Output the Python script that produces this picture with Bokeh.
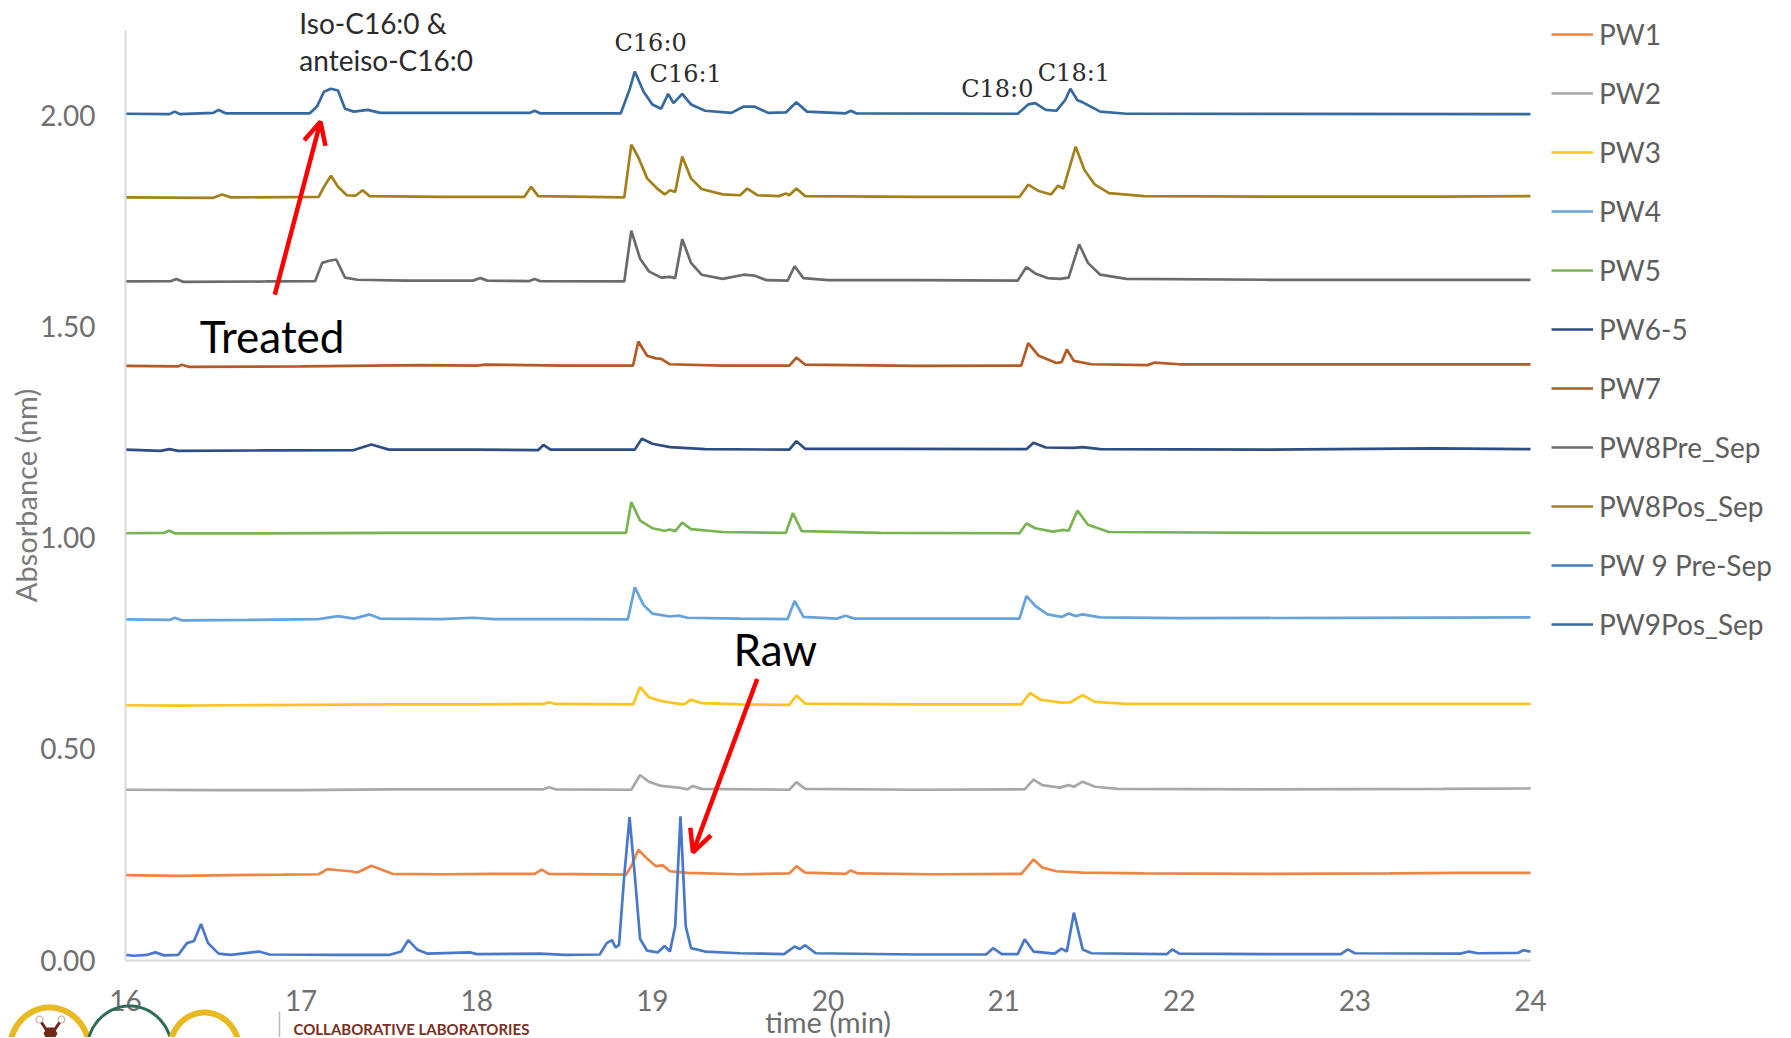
import numpy as np
from bokeh.plotting import figure
from bokeh.models import (FixedTicker, NumeralTickFormatter, Legend, LegendItem, Label,
                          Arrow, OpenHead, Range1d, PolyAnnotation)
from bokeh.embed import file_html
from bokeh.resources import INLINE

# ---------------- data ----------------
x_ticks = [16, 17, 18, 19, 20, 21, 22, 23, 24]
y_ticks = [0.0, 0.5, 1.0, 1.5, 2.0]

series_names = ["PW1", "PW2", "PW3", "PW4", "PW5", "PW6-5", "PW7",
                "PW8Pre_Sep", "PW8Pos_Sep", "PW 9 Pre-Sep", "PW9Pos_Sep"]
series_colors = ["#EE8544", "#A8A8A8", "#FFC31F", "#65A3DA", "#79B452", "#2E4D83",
                 "#B35A25", "#6B6B6B", "#A3801A", "#4A78C8", "#3569A0"]

pw1_t = [16.00, 16.30, 16.60, 16.90, 17.10, 17.15, 17.20, 17.28, 17.32, 17.40, 17.47, 17.52,
         17.80, 18.10, 18.33, 18.37, 18.41, 18.85, 18.88, 18.92, 18.97, 19.02, 19.06, 19.10,
         19.20, 19.50, 19.78, 19.82, 19.87, 20.10, 20.13, 20.17, 20.60, 21.10, 21.13, 21.17,
         21.22, 21.30, 21.45, 21.80, 22.50, 23.20, 23.60, 24.00]
pw1_y = [0.201, 0.199, 0.201, 0.202, 0.203, 0.215, 0.213, 0.210, 0.207, 0.223, 0.212, 0.204,
         0.203, 0.204, 0.204, 0.214, 0.204, 0.202, 0.222, 0.261, 0.240, 0.222, 0.224, 0.210,
         0.206, 0.203, 0.205, 0.222, 0.207, 0.204, 0.212, 0.205, 0.203, 0.204, 0.218, 0.238,
         0.219, 0.210, 0.207, 0.205, 0.204, 0.205, 0.206, 0.206]

pw2_t = [16.00, 16.50, 17.00, 17.50, 18.00, 18.38, 18.41, 18.45, 18.88, 18.93, 18.98, 19.05,
         19.15, 19.20, 19.23, 19.28, 19.78, 19.82, 19.87, 20.50, 21.12, 21.17, 21.22, 21.32,
         21.37, 21.40, 21.45, 21.52, 21.65, 22.50, 23.50, 24.00]
pw2_y = [0.403, 0.402, 0.402, 0.404, 0.404, 0.404, 0.409, 0.404, 0.403, 0.438, 0.422, 0.412,
         0.408, 0.404, 0.412, 0.405, 0.403, 0.421, 0.405, 0.403, 0.404, 0.427, 0.414, 0.408,
         0.414, 0.410, 0.422, 0.410, 0.405, 0.404, 0.405, 0.406]

pw3_t = [16.00, 16.30, 16.60, 17.00, 17.50, 18.00, 18.38, 18.41, 18.45, 18.89, 18.93, 18.98,
         19.05, 19.12, 19.18, 19.22, 19.28, 19.50, 19.78, 19.82, 19.87, 20.50, 21.10, 21.15,
         21.21, 21.33, 21.38, 21.45, 21.52, 21.70, 22.50, 23.50, 24.00]
pw3_y = [0.603, 0.602, 0.603, 0.604, 0.605, 0.605, 0.606, 0.610, 0.606, 0.605, 0.646, 0.622,
         0.613, 0.608, 0.605, 0.616, 0.608, 0.605, 0.604, 0.626, 0.607, 0.605, 0.605, 0.632,
         0.616, 0.609, 0.610, 0.627, 0.611, 0.606, 0.606, 0.606, 0.606]

pw4_t = [16.00, 16.25, 16.28, 16.32, 16.70, 17.10, 17.21, 17.30, 17.39, 17.45, 17.80, 17.98,
         18.10, 18.60, 18.86, 18.90, 18.95, 19.00, 19.10, 19.15, 19.20, 19.50, 19.77, 19.81,
         19.86, 20.05, 20.10, 20.15, 20.80, 21.09, 21.13, 21.18, 21.25, 21.33, 21.37, 21.41,
         21.45, 21.55, 22.00, 23.00, 24.00]
pw4_y = [0.806, 0.805, 0.810, 0.804, 0.805, 0.807, 0.814, 0.808, 0.818, 0.808, 0.807, 0.810,
         0.807, 0.807, 0.806, 0.882, 0.840, 0.820, 0.813, 0.815, 0.810, 0.808, 0.807, 0.850,
         0.812, 0.808, 0.815, 0.808, 0.808, 0.808, 0.862, 0.838, 0.818, 0.812, 0.820, 0.814,
         0.818, 0.811, 0.809, 0.810, 0.811]

pw5_t = [16.00, 16.22, 16.25, 16.28, 16.80, 17.50, 18.20, 18.85, 18.88, 18.93, 19.00, 19.07,
         19.10, 19.13, 19.17, 19.22, 19.40, 19.76, 19.80, 19.85, 20.30, 21.09, 21.13, 21.18,
         21.28, 21.34, 21.37, 21.42, 21.48, 21.60, 22.50, 23.50, 24.00]
pw5_y = [1.010, 1.011, 1.016, 1.010, 1.010, 1.011, 1.011, 1.011, 1.084, 1.040, 1.022, 1.016,
         1.019, 1.015, 1.035, 1.020, 1.013, 1.011, 1.058, 1.015, 1.011, 1.010, 1.033, 1.022,
         1.014, 1.018, 1.016, 1.064, 1.030, 1.013, 1.011, 1.011, 1.011]

pw65_t = [16.00, 16.20, 16.25, 16.30, 16.80, 17.30, 17.40, 17.50, 18.00, 18.35, 18.38, 18.42,
          18.90, 18.94, 19.00, 19.10, 19.30, 19.78, 19.82, 19.87, 20.40, 21.13, 21.17, 21.24,
          21.40, 21.45, 21.55, 22.50, 23.45, 24.00]
pw65_y = [1.208, 1.205, 1.209, 1.205, 1.206, 1.207, 1.220, 1.208, 1.208, 1.207, 1.219, 1.208,
          1.208, 1.234, 1.222, 1.214, 1.209, 1.208, 1.228, 1.210, 1.210, 1.209, 1.224, 1.213,
          1.212, 1.214, 1.209, 1.208, 1.211, 1.209]

pw7_t = [16.00, 16.30, 16.32, 16.36, 17.00, 17.69, 18.00, 18.05, 18.50, 18.89, 18.92, 18.97,
         19.02, 19.05, 19.10, 19.40, 19.78, 19.82, 19.87, 20.50, 21.10, 21.14, 21.20, 21.30,
         21.33, 21.36, 21.40, 21.50, 21.82, 21.86, 22.00, 23.00, 24.00]
pw7_y = [1.406, 1.405, 1.409, 1.404, 1.405, 1.408, 1.407, 1.409, 1.407, 1.407, 1.464, 1.430,
         1.424, 1.423, 1.410, 1.407, 1.407, 1.426, 1.409, 1.406, 1.407, 1.460, 1.430, 1.413,
         1.415, 1.445, 1.418, 1.410, 1.408, 1.414, 1.410, 1.410, 1.410]

pw8pre_t = [16.00, 16.26, 16.29, 16.33, 16.80, 17.08, 17.12, 17.16, 17.20, 17.25, 17.32, 17.60,
            17.98, 18.02, 18.06, 18.30, 18.33, 18.36, 18.84, 18.88, 18.93, 18.98, 19.05, 19.10,
            19.13, 19.17, 19.22, 19.28, 19.40, 19.52, 19.58, 19.65, 19.77, 19.81, 19.86, 20.00,
            20.50, 21.08, 21.13, 21.18, 21.25, 21.32, 21.37, 21.43, 21.48, 21.55, 21.70, 22.50,
            23.50, 24.00]
pw8pre_y = [1.606, 1.607, 1.612, 1.605, 1.606, 1.607, 1.650, 1.655, 1.658, 1.615, 1.610, 1.608,
            1.608, 1.614, 1.608, 1.607, 1.612, 1.607, 1.606, 1.726, 1.660, 1.630, 1.615, 1.617,
            1.614, 1.706, 1.650, 1.622, 1.612, 1.622, 1.620, 1.609, 1.608, 1.642, 1.614, 1.609,
            1.609, 1.608, 1.640, 1.625, 1.614, 1.612, 1.615, 1.694, 1.650, 1.622, 1.612, 1.610,
            1.610, 1.610]

pw8pos_t = [16.00, 16.50, 16.55, 16.60, 17.10, 17.13, 17.17, 17.21, 17.26, 17.31, 17.35, 17.39,
            17.80, 18.27, 18.31, 18.35, 18.84, 18.88, 18.92, 18.97, 19.03, 19.07, 19.10, 19.13,
            19.17, 19.22, 19.28, 19.40, 19.50, 19.54, 19.60, 19.72, 19.76, 19.78, 19.82, 19.87,
            20.50, 21.09, 21.14, 21.20, 21.27, 21.31, 21.34, 21.41, 21.46, 21.52, 21.60, 21.80,
            22.50, 23.50, 24.00]
pw8pos_y = [1.805, 1.804, 1.812, 1.805, 1.806, 1.830, 1.856, 1.830, 1.810, 1.809, 1.822, 1.808,
            1.806, 1.806, 1.830, 1.808, 1.805, 1.930, 1.900, 1.850, 1.825, 1.812, 1.822, 1.818,
            1.902, 1.850, 1.825, 1.812, 1.810, 1.826, 1.810, 1.808, 1.814, 1.810, 1.826, 1.808,
            1.806, 1.806, 1.835, 1.820, 1.812, 1.833, 1.826, 1.925, 1.870, 1.835, 1.815, 1.808,
            1.807, 1.807, 1.808]

pw9pre_t = [16.00, 16.05, 16.12, 16.17, 16.22, 16.30, 16.35, 16.39, 16.43, 16.47, 16.53, 16.60,
            16.76, 16.82, 17.20, 17.50, 17.57, 17.61, 17.66, 17.72, 17.96, 18.00, 18.36, 18.50,
            18.70, 18.74, 18.77, 18.79, 18.81, 18.84, 18.87, 18.90, 18.93, 18.97, 19.03, 19.07,
            19.10, 19.13, 19.16, 19.19, 19.22, 19.30, 19.50, 19.75, 19.81, 19.84, 19.87, 19.93,
            20.50, 20.90, 20.94, 20.99, 21.08, 21.12, 21.17, 21.29, 21.33, 21.36, 21.40, 21.45,
            21.50, 21.93, 21.96, 22.00, 22.50, 22.92, 22.96, 23.00, 23.60, 23.65, 23.70, 23.93,
            23.96, 24.00]
pw9pre_y = [0.012, 0.010, 0.012, 0.018, 0.011, 0.012, 0.040, 0.045, 0.085, 0.040, 0.015, 0.012,
            0.020, 0.013, 0.012, 0.012, 0.020, 0.047, 0.025, 0.015, 0.018, 0.014, 0.015, 0.012,
            0.013, 0.040, 0.047, 0.030, 0.035, 0.200, 0.338, 0.200, 0.050, 0.022, 0.018, 0.033,
            0.020, 0.080, 0.340, 0.080, 0.028, 0.020, 0.016, 0.014, 0.032, 0.026, 0.035, 0.016,
            0.013, 0.013, 0.028, 0.014, 0.014, 0.049, 0.020, 0.015, 0.027, 0.020, 0.112, 0.025,
            0.016, 0.014, 0.025, 0.015, 0.014, 0.014, 0.025, 0.016, 0.015, 0.020, 0.016, 0.017,
            0.023, 0.020]

pw9pos_t = [16.00, 16.25, 16.28, 16.31, 16.50, 16.53, 16.57, 17.05, 17.09, 17.13, 17.17, 17.21,
            17.25, 17.30, 17.38, 17.45, 18.30, 18.33, 18.36, 18.82, 18.87, 18.90, 18.95, 19.00,
            19.05, 19.09, 19.12, 19.17, 19.22, 19.30, 19.45, 19.52, 19.58, 19.66, 19.76, 19.82,
            19.88, 20.10, 20.13, 20.16, 21.08, 21.14, 21.18, 21.24, 21.30, 21.35, 21.38, 21.42,
            21.45, 21.55, 21.70, 24.00]
pw9pos_y = [2.003, 2.002, 2.008, 2.002, 2.005, 2.012, 2.004, 2.004, 2.020, 2.055, 2.062, 2.058,
            2.015, 2.008, 2.012, 2.005, 2.005, 2.010, 2.004, 2.004, 2.060, 2.103, 2.055, 2.025,
            2.015, 2.050, 2.028, 2.050, 2.025, 2.010, 2.005, 2.020, 2.020, 2.005, 2.006, 2.030,
            2.008, 2.004, 2.010, 2.004, 2.003, 2.025, 2.028, 2.012, 2.010, 2.035, 2.062, 2.035,
            2.030, 2.008, 2.003, 2.002]

series_t = [pw1_t, pw2_t, pw3_t, pw4_t, pw5_t, pw65_t, pw7_t, pw8pre_t, pw8pos_t, pw9pre_t, pw9pos_t]
series_y = [pw1_y, pw2_y, pw3_y, pw4_y, pw5_y, pw65_y, pw7_y, pw8pre_y, pw8pos_y, pw9pre_y, pw9pos_y]

# ---------------- geometry ----------------
W, H = 1790, 1037
X0_PX, PX_PER_MIN = 125.0, 175.625      # where t=16 sits, pixels per minute
Y0_PX, PX_PER_UNIT = 959.5, 422.5       # where y=0 sits (from top), pixels per unit
x_lo = 16 - X0_PX / PX_PER_MIN
x_hi = 16 + (W - X0_PX) / PX_PER_MIN
y_hi = Y0_PX / PX_PER_UNIT
y_lo = -(H - Y0_PX) / PX_PER_UNIT

FONT = "Lato"
p = figure(width=W, height=H, output_backend="svg", toolbar_location=None,
           x_range=Range1d(x_lo, x_hi), y_range=Range1d(y_lo, y_hi),
           min_border=0, min_border_left=0, min_border_right=0,
           min_border_top=0, min_border_bottom=0)
p.outline_line_color = None
p.xgrid.visible = False
p.ygrid.visible = False
p.background_fill_color = "white"
p.border_fill_color = "white"

for ax in (p.xaxis[0], p.yaxis[0]):
    ax.axis_line_color = "#D9D9D9"
    ax.axis_line_width = 2
    ax.major_tick_line_color = None
    ax.minor_tick_line_color = None
    ax.major_tick_out = 0
    ax.major_tick_in = 0
    ax.minor_tick_out = 0
    ax.major_label_text_font = FONT
    ax.major_label_text_font_size = "28px"
    ax.major_label_text_color = "#707070"
    ax.axis_label_text_font = FONT
    ax.axis_label_text_font_size = "29px"
    ax.axis_label_text_font_style = "normal"

p.xaxis.fixed_location = 0
p.xaxis.bounds = (16, 24)
p.xaxis.ticker = FixedTicker(ticks=x_ticks)
p.xaxis.major_label_standoff = 30
p.xaxis.axis_label = "time (min)"
p.xaxis.axis_label_text_color = "#6E6E6E"
p.xaxis.axis_label_standoff = -11

p.yaxis.fixed_location = 16
p.yaxis.bounds = (0, 2.2)
p.yaxis.ticker = FixedTicker(ticks=y_ticks)
p.yaxis.formatter = NumeralTickFormatter(format="0.00")
p.yaxis.major_label_standoff = 30
p.yaxis.axis_label = "Absorbance (nm)"
p.yaxis.axis_label_text_color = "#7A7A7A"
p.yaxis.axis_label_standoff = -6

renderers = []
for t, y, c in zip(series_t, series_y, series_colors):
    renderers.append(p.line(t, y, line_color=c, line_width=2.7))

legend = Legend(items=[LegendItem(label=n, renderers=[r]) for n, r in zip(series_names, renderers)],
                location=(1551, H - 642), orientation="vertical",
                label_text_font=FONT, label_text_font_size="28px", label_text_color="#5E5E5E",
                glyph_width=42, glyph_height=36, label_height=36, label_standoff=6,
                spacing=23, padding=0, margin=0, border_line_color=None,
                background_fill_alpha=0)
p.add_layout(legend)

# peak annotations
ann_dark = "#2B2B2B"
p.add_layout(Label(x=16.99, y=2.218, text="Iso-C16:0 &", text_font=FONT, text_font_size="28px",
                   text_color=ann_dark, text_align="left", text_baseline="middle"))
p.add_layout(Label(x=16.99, y=2.130, text="anteiso-C16:0", text_font=FONT, text_font_size="28px",
                   text_color=ann_dark, text_align="left", text_baseline="middle"))
for txt, xx, yy in [("C16:0", 18.99, 2.170), ("C16:1", 19.19, 2.097),
                    ("C18:0", 20.964, 2.062), ("C18:1", 21.40, 2.100)]:
    p.add_layout(Label(x=xx, y=yy, text=txt, text_font="DejaVu Serif", text_font_size="24px",
                       text_color=ann_dark, text_align="center", text_baseline="middle"))

p.add_layout(Label(x=16.835, y=1.478, text="Treated", text_font=FONT, text_font_size="44px",
                   text_color="black", text_align="center", text_baseline="middle"))
p.add_layout(Label(x=19.70, y=0.737, text="Raw", text_font=FONT, text_font_size="44px",
                   text_color="black", text_align="center", text_baseline="middle"))

p.add_layout(Arrow(x_start=16.85, y_start=1.575, x_end=17.11, y_end=1.984,
                   line_color="#FF0000", line_width=4.5,
                   end=OpenHead(size=22, line_color="#FF0000", line_width=4.5)))
p.add_layout(Arrow(x_start=19.597, y_start=0.665, x_end=19.231, y_end=0.255,
                   line_color="#FF0000", line_width=4.5,
                   end=OpenHead(size=22, line_color="#FF0000", line_width=4.5)))

# cut-off logo strip at the bottom-left (decoration, page pixels -> screen units)


def arc_band(cx, half_w, top, bottom, thick):
    th = np.linspace(0, np.pi, 30)
    ox = cx + half_w * np.cos(th)
    oy = bottom + (top - bottom) * np.sin(th)
    ix = cx + (half_w - thick) * np.cos(th[::-1])
    iy = bottom + (top + thick - bottom) * np.sin(th[::-1])
    xs = [float(v) for v in np.concatenate([ox, ix])]
    ys = [float(H - v) for v in np.concatenate([oy, iy])]
    return xs, ys


def ring(cx, cy, r, n=10):
    th = np.linspace(0, 2 * np.pi, n, endpoint=False)
    return [float(cx + r * np.cos(a)) for a in th], [float(H - (cy + r * np.sin(a))) for a in th]


for cx, hw, top, thick, col in [(49, 43, 1004, 6, "#E8B923"), (129, 44, 1004, 3, "#2E6B5A"),
                                (204, 38, 1009, 6, "#E8B923")]:
    xs, ys = arc_band(cx, hw, top, 1050, thick)
    p.add_layout(PolyAnnotation(xs=xs, ys=ys, xs_units="screen", ys_units="screen",
                                fill_color=col, fill_alpha=1, line_color=None))

for (ax0, ay0, ax1, ay1) in [(41, 1022, 47, 1031), (59, 1022, 53, 1031)]:
    p.add_layout(Arrow(x_start=ax0, y_start=H - ay0, x_end=ax1, y_end=H - ay1,
                       start_units="screen", end_units="screen", end=None,
                       line_color="#6B2A1A", line_width=3))
hx, hy = ring(50, 1033, 7, 6)
p.add_layout(PolyAnnotation(xs=hx, ys=hy, xs_units="screen", ys_units="screen",
                            fill_color="#6B2A1A", fill_alpha=1, line_color=None))
for cx in (39, 61):
    rx, ry = ring(cx, 1019, 3.5)
    p.add_layout(PolyAnnotation(xs=rx, ys=ry, xs_units="screen", ys_units="screen",
                                fill_color="white", fill_alpha=1, line_color="#6B2A1A",
                                line_width=1.5))

p.add_layout(Arrow(x_start=279, y_start=H - 1011, x_end=279, y_end=H - 1045,
                   start_units="screen", end_units="screen", end=None,
                   line_color="#BBBBBB", line_width=1.5))
p.add_layout(Label(x=293, y=H - 1019, x_units="screen", y_units="screen",
                   text="COLLABORATIVE LABORATORIES", text_font=FONT, text_font_size="15px",
                   text_font_style="bold", text_color="#7B2E22", text_baseline="top"))

open("out.html", "w").write(file_html(p, INLINE))
